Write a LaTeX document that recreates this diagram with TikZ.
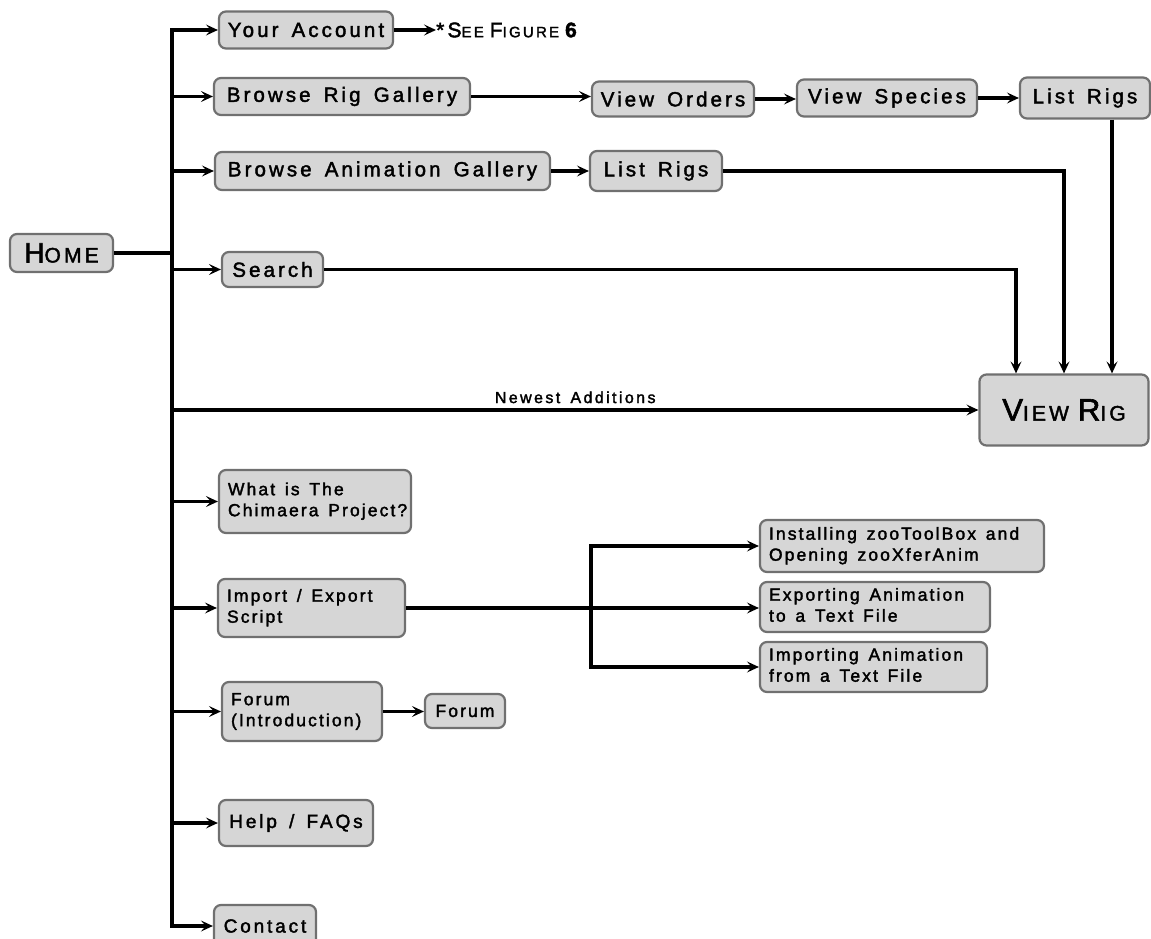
\documentclass[tikz,border=0pt]{standalone}
\usepackage{fontspec}
\setmainfont{Liberation Sans}
\newfontfamily\lab{Liberation Sans}[LetterSpace=15,FakeBold=2,WordSpace=1.5]
\newfontfamily\labb{Liberation Sans}[LetterSpace=12,FakeBold=2,WordSpace=1.4]
\usetikzlibrary{arrows.meta,calc}
\definecolor{boxfill}{RGB}{214,214,214}
\definecolor{boxline}{RGB}{112,112,112}
\newcommand\fsz[1]{\fontsize{#1}{#1}\selectfont}
\newcommand\twol[3]{\makebox[#1pt][l]{\begin{tabular}{@{}l@{}}#2\\#3\end{tabular}}}
\begin{document}
\begin{tikzpicture}[x=1pt,y=-1pt,
  box/.style={draw=boxline, fill=boxfill, rounded corners=7pt, line width=2.2pt,
    inner xsep=6pt, inner ysep=3pt, text=black},
  big/.style={font={\lab\fontsize{20.5}{22}\selectfont}},
  mid/.style={font={\lab\fontsize{19}{21}\selectfont}},
  small/.style={font={\labb\fontsize{17.5}{21}\selectfont}, inner xsep=9pt},
  link/.style={line width=3.6pt, draw=black},
  arr/.style={link, -{Stealth[length=12pt,width=11pt,inset=5pt]}}]

\useasboundingbox (0,0) rectangle (1151,939);
\fill[white] (0,0) rectangle (1151,939);

% nodes
\node[box,minimum width=103,minimum height=38] (home) at (61.5,253)
  {\lab{\fsz{28}H}{\fsz{21}OME}};
\node[box,big,minimum width=174,minimum height=37] (acct) at (306,30) {Your Account};
\node[anchor=west,inner sep=0pt,text=black] (seefig) at (436,30)
  {\lab{\fsz{21}*S}{\fsz{15}EE}\hspace{6pt}{\fsz{21}F}{\fsz{15}IGURE}\hspace{6pt}{\fsz{21}\bfseries 6}};
\node[box,big,minimum width=256,minimum height=37] (brg) at (342,96.5) {Browse Rig Gallery};
\node[box,big,minimum width=162,minimum height=35] (vord) at (673,99) {View Orders};
\node[box,big,minimum width=180,minimum height=37] (vspe) at (887,98) {View Species};
\node[box,big,minimum width=130,minimum height=41] (lr1) at (1085,98) {List Rigs};
\node[box,big,minimum width=335,minimum height=38] (bag) at (382.5,171) {Browse Animation Gallery};
\node[box,big,minimum width=132,minimum height=40] (lr2) at (656,171) {List Rigs};
\node[box,big,minimum width=101,minimum height=35] (search) at (272.5,269.5) {Search};
\node[box,minimum width=169,minimum height=71] (viewrig) at (1064,410)
  {\lab{\fsz{31}V}{\fsz{21}IEW}\hspace{9pt}{\fsz{31}R}{\fsz{21}IG}};
\node[box,small,minimum height=63] (what) at (315,501.5) {\twol{174}{What is The}{Chimaera Project?}};
\node[box,small,minimum height=58] (imp) at (311.5,608) {\twol{169}{Import / Export}{Script}};
\node[box,small,minimum height=52] (inst) at (902,546) {\twol{266}{Installing zooToolBox and}{Opening zooXferAnim}};
\node[box,small,minimum height=50] (expo) at (875,607) {\twol{212}{Exporting Animation}{to a Text File}};
\node[box,small,minimum height=50] (impo) at (873.5,667) {\twol{209}{Importing Animation}{from a Text File}};
\node[box,small,minimum height=59] (fintro) at (302,711.5) {\twol{142}{Forum}{(Introduction)}};
\node[box,small,inner xsep=6pt,minimum width=80,minimum height=34] (forum) at (465,711) {Forum};
\node[box,mid,minimum width=154,minimum height=46] (help) at (296,823) {Help / FAQs};
\node[box,mid,minimum width=102,minimum height=42] (contact) at (265,926) {Contact};

% trunk
\coordinate (ttop) at (172,30);
\coordinate (tbot) at (172,926);
\draw[link,line cap=rect] (ttop) -- (tbot);
\draw[link] (home.east) -- (home.east -| ttop);

% branches from trunk
\foreach \n in {acct,brg,bag,search,what,imp,fintro,help,contact}
  \draw[arr] (\n.west -| ttop) -- (\n.west);
\draw[arr] (viewrig.west -| ttop) -- node[above,inner sep=5pt,text=black,
  font={\lab\fontsize{16}{18}\selectfont}] (newest) {Newest Additions} (viewrig.west);

% rig gallery chain
\draw[arr] (acct.east) -- (acct.east -| seefig.west);
\draw[arr] (brg.east) -- (brg.east -| vord.west);
\draw[arr] (vord.east) -- (vord.east -| vspe.west);
\draw[arr] (vspe.east) -- (vspe.east -| lr1.west);
\draw[arr] (bag.east) -- (bag.east -| lr2.west);

% into View Rig
\coordinate (in1) at ([xshift=-48pt]viewrig.north);
\coordinate (in3) at ([xshift=48pt]viewrig.north);
\draw[arr] (search.east) -| (in1);
\draw[arr] (lr2.east) -| (viewrig.north);
\draw[arr] (in3 |- lr1.south) -- (in3);

% import / export
\coordinate (split) at (591,608);
\draw[arr] (imp.east) -- (imp.east -| expo.west);
\draw[arr] (split) |- (inst.west);
\draw[arr] (split) |- (impo.west);

% forum
\draw[arr] (fintro.east) -- (fintro.east -| forum.west);
\end{tikzpicture}
\end{document}
